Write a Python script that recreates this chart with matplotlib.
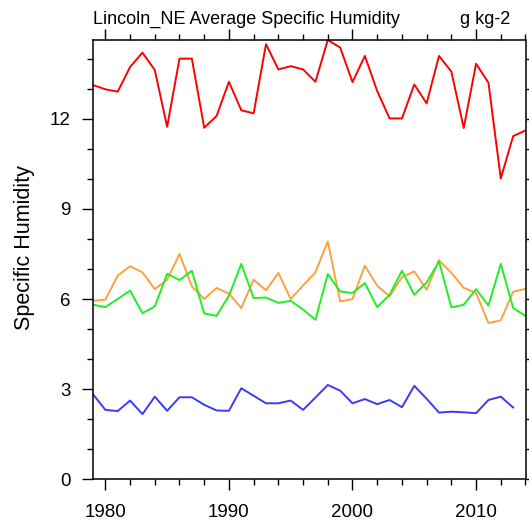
import numpy as np
import matplotlib
matplotlib.use("Agg")
import matplotlib.pyplot as plt
from matplotlib.ticker import MultipleLocator

plt.rcParams['font.family'] = ['Liberation Sans', 'DejaVu Sans']

# values
years = list(range(1979, 2015))

red = [13.12, 12.98, 12.90, 13.72, 14.20, 13.62, 11.73, 14.00, 14.00, 11.70,
       12.09, 13.23, 12.28, 12.18, 14.48, 13.64, 13.75, 13.64, 13.23, 14.62,
       14.37, 13.22, 14.09, 12.92, 12.01, 12.01, 13.14, 12.51, 14.09, 13.57,
       11.69, 13.83, 13.20, 10.01, 11.42, 11.61]

orange = [5.94, 5.98, 6.78, 7.09, 6.89, 6.33, 6.64, 7.50, 6.42, 6.00,
          6.37, 6.18, 5.70, 6.64, 6.29, 6.87, 6.00, 6.45, 6.89, 7.92,
          5.92, 6.00, 7.11, 6.44, 6.09, 6.73, 6.92, 6.31, 7.29, 6.87,
          6.37, 6.20, 5.20, 5.29, 6.24, 6.34]

green = [5.81, 5.73, 6.00, 6.28, 5.53, 5.75, 6.84, 6.63, 6.94, 5.52,
         5.44, 6.11, 7.17, 6.03, 6.05, 5.87, 5.94, 5.65, 5.31, 6.83,
         6.25, 6.20, 6.53, 5.73, 6.14, 6.94, 6.14, 6.55, 7.25, 5.72,
         5.81, 6.33, 5.78, 7.17, 5.70, 5.44]

blue_years = list(range(1979, 2014))
blue = [2.83, 2.31, 2.27, 2.62, 2.17, 2.75, 2.28, 2.73, 2.73, 2.48,
        2.29, 2.28, 3.03, 2.78, 2.53, 2.53, 2.62, 2.31, 2.72, 3.14,
        2.95, 2.53, 2.67, 2.50, 2.64, 2.40, 3.11, 2.68, 2.22, 2.25,
        2.23, 2.20, 2.64, 2.75, 2.39]

W, H = 529, 525
fig = plt.figure(figsize=(W / 100, H / 100), dpi=100)
ax = fig.add_axes([93 / W, 1 - 479.3 / H, (525.5 - 93) / W, (479.3 - 40) / H])

lw = 1.4
ax.plot(years, red, color='#ff0000', lw=lw)
ax.plot(years, orange, color='#ffa040', lw=lw)
ax.plot(years, green, color='#22ee22', lw=lw)
ax.plot(blue_years, blue, color='#3a3aff', lw=lw)

ax.set_xlim(1979, 2014)
ax.set_ylim(0, max(red))

ax.xaxis.set_major_locator(MultipleLocator(10))
ax.xaxis.set_minor_locator(MultipleLocator(2))
ax.yaxis.set_major_locator(MultipleLocator(3))
ax.yaxis.set_minor_locator(MultipleLocator(1))

for s in ax.spines.values():
    s.set_linewidth(1.1)

ax.tick_params(which='both', direction='out', top=True, right=True,
               width=1.0, labelsize=13.5)
ax.tick_params(which='major', length=8)
ax.tick_params(which='minor', length=4.5)
ax.tick_params(axis='x', which='major', pad=10)
ax.tick_params(axis='y', which='major', pad=8)

fig.text(25 / W, 1 - 247.5 / H, 'Specific Humidity', rotation=90,
         ha='center', va='center', fontsize=15.5)
fig.text(93 / W, 1 - 23.5 / H, 'Lincoln_NE Average Specific Humidity',
         ha='left', va='baseline', fontsize=13)
fig.text(510 / W, 1 - 23.5 / H, 'g kg-2', ha='right', va='baseline', fontsize=13)

fig.savefig('out.png', dpi=100)
